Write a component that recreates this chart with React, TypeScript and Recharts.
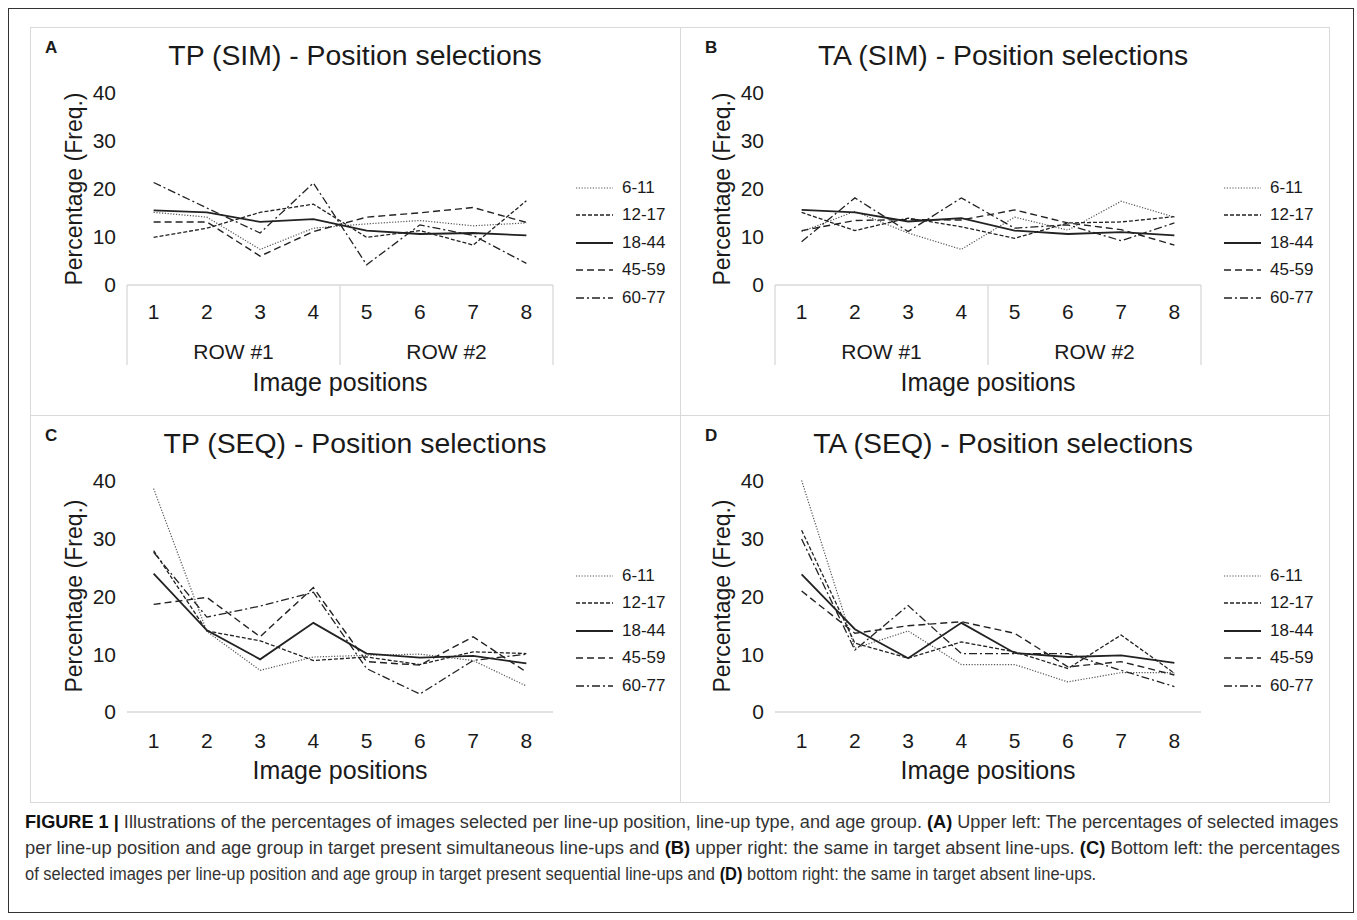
import React, { useLayoutEffect, useRef, useState } from "react";
import { LineChart, Line, XAxis, YAxis, Legend } from "recharts";

const FONT = '"Liberation Sans", Arial, Helvetica, sans-serif';

const positions = [1, 2, 3, 4, 5, 6, 7, 8];
const ageGroups = ["6-11", "12-17", "18-44", "45-59", "60-77"];
const yTicks = [0, 10, 20, 30, 40];
const plainTicks = [1, 2, 3, 4, 5, 6, 7, 8];
// half-steps mark the row box edges and the row captions
const rowTicks = [0.5, 1, 2, 2.5, 3, 4, 4.5, 5, 6, 6.5, 7, 8, 8.5];
const rowNames: Record<string, string> = { "2.5": "ROW #1", "6.5": "ROW #2" };

// percentage per age group (rows in ageGroups order) and image position 1..8
const tpSim = [
  [15.1, 14.1, 7.4, 11.8, 12.7, 13.4, 12.3, 12.9],
  [9.9, 11.8, 15.1, 16.8, 9.9, 11.3, 8.3, 17.5],
  [15.5, 15.1, 13.1, 13.7, 11.3, 10.6, 10.8, 10.3],
  [13.1, 13.1, 6.0, 11.1, 14.1, 15.0, 16.1, 13.0],
  [21.3, 16.0, 10.8, 21.2, 4.2, 12.5, 10.3, 4.5],
];
const taSim = [
  [11.1, 15.3, 10.8, 7.4, 14.1, 11.4, 17.4, 14.1],
  [15.1, 11.3, 13.9, 12.1, 9.7, 12.9, 13.1, 14.2],
  [15.6, 15.1, 13.2, 13.9, 11.3, 10.6, 11.0, 10.3],
  [11.3, 13.4, 13.6, 13.5, 15.6, 12.9, 11.5, 8.3],
  [9.0, 18.1, 11.1, 18.1, 11.8, 12.5, 9.2, 12.9],
];
const tpSeq = [
  [38.6, 13.9, 7.2, 9.5, 9.8, 10.0, 8.9, 4.5],
  [27.9, 14.0, 12.3, 8.9, 9.5, 8.2, 10.4, 10.1],
  [23.9, 14.1, 9.1, 15.4, 10.1, 9.4, 9.7, 8.4],
  [18.6, 19.8, 13.0, 21.5, 8.7, 8.1, 13.0, 6.9],
  [27.6, 16.4, 18.3, 20.7, 7.5, 3.1, 8.9, 10.0],
];
const taSeq = [
  [40.0, 11.0, 14.0, 8.2, 8.2, 5.2, 6.8, 6.8],
  [31.4, 11.9, 9.3, 12.1, 10.4, 7.5, 13.3, 6.7],
  [23.8, 14.3, 9.3, 15.4, 10.2, 9.5, 9.8, 8.5],
  [20.9, 13.6, 14.9, 15.6, 13.6, 7.8, 8.7, 6.4],
  [29.9, 10.7, 18.4, 10.1, 10.1, 10.1, 7.2, 4.4],
];

const lineStyles = [
  { dash: "1.2 1.6", width: 1.2, color: "#555" },
  { dash: "4 2", width: 1.3, color: "#222" },
  { dash: undefined, width: 1.8, color: "#222" },
  { dash: "7 4", width: 1.4, color: "#222" },
  { dash: "8 3 2 3", width: 1.3, color: "#222" },
];

const GRAY = "#d9d9d9";
const INK = "#1a1a1a";

function AgeLegend({ payload }: { payload?: { value: string }[] }) {
  const names = payload && payload.length ? payload.map((p) => p.value) : ageGroups;
  const items = [...names].sort((a, b) => ageGroups.indexOf(a) - ageGroups.indexOf(b));
  return (
    <div style={{ fontFamily: FONT, fontSize: 17, color: INK }}>
      {items.map((name) => {
        const s = lineStyles[ageGroups.indexOf(name)];
        return (
          <div key={name} style={{ display: "flex", alignItems: "center", height: 27.5 }}>
            <svg width={37} height={6}>
              <line x1={0} x2={37} y1={3} y2={3} stroke={s.color} strokeWidth={s.width} strokeDasharray={s.dash} />
            </svg>
            <span style={{ marginLeft: 9 }}>{name}</span>
          </div>
        );
      })}
    </div>
  );
}

function PositionTick(props: any) {
  const { x, y, payload, rows } = props;
  const v = payload.value as number;
  const textStyle = { fontFamily: FONT, fontSize: 21, fill: INK };
  if (Number.isInteger(v)) {
    return (
      <text x={x} y={y + (rows ? 27 : 28.5)} dy="0.355em" textAnchor="middle" style={textStyle}>
        {v}
      </text>
    );
  }
  if (rowNames[String(v)]) {
    return (
      <text x={x} y={y + 67} dy="0.355em" textAnchor="middle" style={textStyle}>
        {rowNames[String(v)]}
      </text>
    );
  }
  return <line x1={x} x2={x} y1={y} y2={y + 80} stroke={GRAY} strokeWidth={1.3} />;
}

type PanelProps = {
  letter: string;
  title: string;
  values: number[][];
  rows: boolean;
  left: number;
  top: number;
  letterLeft: number;
};

function PositionPanel({ letter, title, values, rows, left, top, letterLeft }: PanelProps) {
  const data = positions.map((p, i) => {
    const row: Record<string, number> = { pos: p };
    ageGroups.forEach((g, k) => {
      row[g] = values[k][i];
    });
    return row;
  });
  const height = 388;
  const plotH = rows ? 192.5 : 231.5;
  const axisH = height - 65.5 - plotH;

  return (
    <div style={{ position: "absolute", left, top, width: 650, height }}>
      <div
        style={{
          position: "absolute",
          left: letterLeft,
          top: 11,
          fontFamily: FONT,
          fontWeight: "bold",
          fontSize: 17,
          color: INK,
        }}
      >
        {letter}
      </div>
      <div
        style={{
          position: "absolute",
          left: 0,
          top: 13,
          width: 650,
          textAlign: "center",
          fontFamily: FONT,
          fontSize: 28.4,
          lineHeight: "30px",
          color: INK,
        }}
      >
        {title}
      </div>
      <div
        style={{
          position: "absolute",
          left: 44,
          top: 65.5 + plotH / 2,
          transform: "translate(-50%, -50%) rotate(-90deg)",
          whiteSpace: "nowrap",
          fontFamily: FONT,
          fontSize: 23,
          color: INK,
        }}
      >
        Percentage (Freq.)
      </div>
      <LineChart width={650} height={height} data={data} margin={{ top: 65.5, right: 127, left: 57, bottom: 0 }}>
        <XAxis
          dataKey="pos"
          type="number"
          domain={[0.5, 8.5]}
          ticks={rows ? rowTicks : plainTicks}
          interval={0}
          height={axisH}
          tickLine={false}
          tickSize={0}
          tickMargin={0}
          axisLine={{ stroke: GRAY, strokeWidth: 1.3 }}
          tick={(p: any) => <PositionTick {...p} rows={rows} />}
          label={{
            value: "Image positions",
            position: "insideBottom",
            offset: 24,
            fontSize: 25,
            fill: INK,
            fontFamily: FONT,
          }}
        />
        <YAxis
          domain={[0, 40]}
          ticks={yTicks}
          width={40}
          axisLine={false}
          tickLine={false}
          tickSize={0}
          tickMargin={11}
          tick={{ fontSize: 21, fill: INK, fontFamily: FONT }}
        />
        <Legend
          layout="vertical"
          align="center"
          verticalAlign="middle"
          wrapperStyle={{ left: 546, top: 147, width: 110, height: 140 }}
          content={(p: any) => <AgeLegend payload={p.payload} />}
        />
        {ageGroups.map((g, k) => (
          <Line
            key={g}
            dataKey={g}
            name={g}
            type="linear"
            stroke={lineStyles[k].color}
            strokeWidth={lineStyles[k].width}
            strokeDasharray={lineStyles[k].dash}
            dot={false}
            activeDot={false}
            isAnimationActive={false}
          />
        ))}
      </LineChart>
    </div>
  );
}

// one caption row, squeezed horizontally to the width it has in the figure
function CaptionLine({ top, width, children }: { top: number; width: number; children: React.ReactNode }) {
  const ref = useRef<HTMLDivElement>(null);
  const [scale, setScale] = useState(1);
  useLayoutEffect(() => {
    if (ref.current) setScale(width / ref.current.scrollWidth);
  }, [width]);
  return (
    <div
      ref={ref}
      style={{
        position: "absolute",
        left: 25,
        top,
        whiteSpace: "nowrap",
        transform: `scaleX(${scale})`,
        transformOrigin: "0 0",
        fontFamily: FONT,
        fontSize: 17.5,
        lineHeight: "20px",
        color: "#333",
      }}
    >
      {children}
    </div>
  );
}

const B = ({ children }: { children: React.ReactNode }) => (
  <b style={{ color: "#111" }}>{children}</b>
);

export default function App() {
  return (
    <div
      style={{
        position: "absolute",
        left: 0,
        top: 0,
        width: 1357,
        height: 920,
        background: "#fff",
        overflow: "hidden",
      }}
    >
      <div
        style={{
          position: "absolute",
          left: 8,
          top: 8,
          width: 1346,
          height: 905,
          border: "1px solid #333",
          boxSizing: "border-box",
        }}
      />
      <div
        style={{
          position: "absolute",
          left: 30,
          top: 27,
          width: 1300,
          height: 776,
          border: `1px solid ${GRAY}`,
          boxSizing: "border-box",
        }}
      />
      <div style={{ position: "absolute", left: 680, top: 27, width: 1, height: 776, background: GRAY }} />
      <div style={{ position: "absolute", left: 30, top: 415, width: 1300, height: 1, background: GRAY }} />

      <PositionPanel letter="A" title="TP (SIM) - Position selections" values={tpSim} rows left={30} top={27} letterLeft={15} />
      <PositionPanel letter="B" title="TA (SIM) - Position selections" values={taSim} rows left={678} top={27} letterLeft={27} />
      <PositionPanel letter="C" title="TP (SEQ) - Position selections" values={tpSeq} rows={false} left={30} top={415} letterLeft={15} />
      <PositionPanel letter="D" title="TA (SEQ) - Position selections" values={taSeq} rows={false} left={678} top={415} letterLeft={27} />

      <CaptionLine top={812} width={1313}>
        <B>FIGURE 1 |</B> Illustrations of the percentages of images selected per line-up position, line-up type, and age
        group. <B>(A)</B> Upper left: The percentages of selected images
      </CaptionLine>
      <CaptionLine top={838} width={1315}>
        per line-up position and age group in target present simultaneous line-ups and <B>(B)</B> upper right: the same
        in target absent line-ups. <B>(C)</B> Bottom left: the percentages
      </CaptionLine>
      <CaptionLine top={864} width={1071}>
        of selected images per line-up position and age group in target present sequential line-ups and <B>(D)</B> bottom
        right: the same in target absent line-ups.
      </CaptionLine>
    </div>
  );
}
